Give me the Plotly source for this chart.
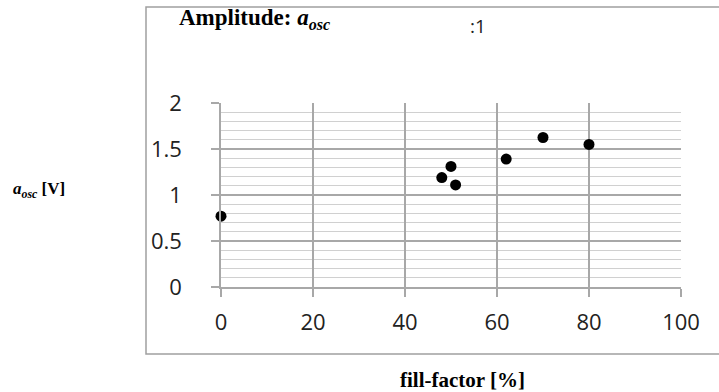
import plotly.graph_objects as go

# Oscillation amplitude versus fill-factor
fill_factor = [0, 48, 50, 51, 62, 70, 80]
amplitude = [0.77, 1.19, 1.31, 1.11, 1.39, 1.625, 1.55]

x_ticks = [0, 20, 40, 60, 80, 100]
y_ticks = [0, 0.5, 1, 1.5, 2]

W, H = 719, 392
L, R, T, B = 221, 38, 103, 105
pw, ph = W - L - R, H - T - B


def px_to_paper(px, py):
    return (px - L) / pw, (H - B - py) / ph


serif = "Liberation Serif, Times New Roman, serif"
sans = "Open Sans, sans-serif"
grid_major = "#A8A8A8"
grid_minor = "#D0D0D0"

fig = go.Figure()
fig.add_trace(go.Scatter(
    x=fill_factor, y=amplitude, mode="markers",
    marker=dict(color="black", size=11, line=dict(width=0)),
    cliponaxis=False, showlegend=False,
))

fig.update_layout(
    width=W, height=H,
    margin=dict(l=L, r=R, t=T, b=B),
    paper_bgcolor="white", plot_bgcolor="white",
    font=dict(family=sans, size=22, color="#222"),
    xaxis=dict(
        range=[0, 100], tickvals=x_ticks, ticktext=[str(v) for v in x_ticks],
        showgrid=True, gridcolor=grid_major, gridwidth=1.5,
        showline=True, linecolor=grid_major, linewidth=1.5,
        ticks="outside", ticklen=8, tickcolor=grid_major, tickwidth=1.5,
        ticklabelstandoff=7, zeroline=False, fixedrange=True,
    ),
    yaxis=dict(
        range=[0, 2], tickvals=y_ticks, ticktext=["0", "0.5", "1", "1.5", "2"],
        showgrid=True, gridcolor=grid_major, gridwidth=1.5,
        minor=dict(dtick=0.1, showgrid=True, gridcolor=grid_minor, gridwidth=1.2),
        showline=True, linecolor=grid_major, linewidth=1.5,
        ticks="outside", ticklen=8, tickcolor=grid_major, tickwidth=1.5,
        ticklabelstandoff=25, zeroline=False, fixedrange=True,
    ),
)

# chart frame
x0, y0 = px_to_paper(146, 354)
x1, y1 = px_to_paper(725, 7)
fig.add_shape(type="rect", xref="paper", yref="paper", x0=x0, y0=y0, x1=x1, y1=y1,
              line=dict(color="#A0A0A0", width=1.5), fillcolor="rgba(0,0,0,0)", layer="below")

tx, ty = px_to_paper(177, 19)
fig.add_annotation(xref="paper", yref="paper", x=tx, y=ty, xanchor="left", yanchor="middle",
                   text="<b>Amplitude: <i>a</i><sub><i>osc</i></sub></b>", showarrow=False,
                   font=dict(family=serif, size=23, color="black"))

cx, cy = px_to_paper(468, 26)
fig.add_annotation(xref="paper", yref="paper", x=cx, y=cy, xanchor="left", yanchor="middle",
                   text=":1", showarrow=False, font=dict(family=sans, size=19, color="#222"))

lx, ly = px_to_paper(39, 190)
fig.add_annotation(xref="paper", yref="paper", x=lx, y=ly, xanchor="center", yanchor="middle",
                   text="<b><i>a</i><sub><i>osc</i></sub> [V]</b>", showarrow=False,
                   font=dict(family=serif, size=17, color="black"))

bx, by = px_to_paper(462, 380)
fig.add_annotation(xref="paper", yref="paper", x=bx, y=by, xanchor="center", yanchor="middle",
                   text="<b>fill-factor [%]</b>", showarrow=False,
                   font=dict(family=serif, size=21, color="black"))

fig.write_html("out.html")
